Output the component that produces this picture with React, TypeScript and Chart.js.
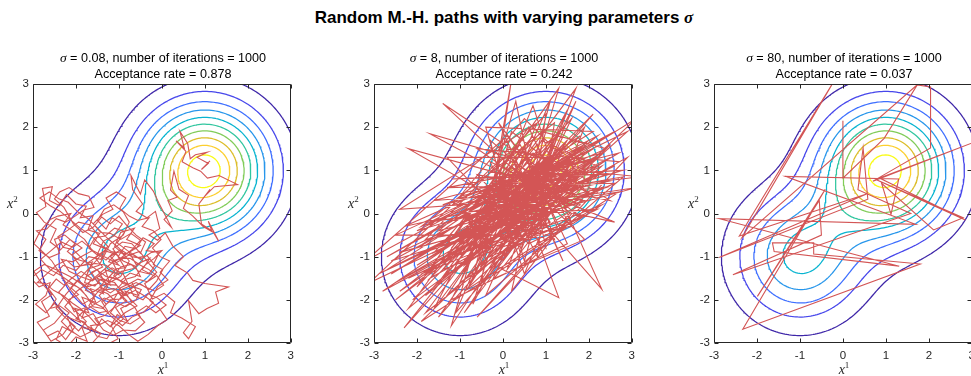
import { useEffect, useRef } from "react";
import { Chart, registerables } from "chart.js";

Chart.register(...registerables);

// Target density: mixture of two isotropic Gaussians
const MIX_WEIGHTS = [2 / 3, 1 / 3];
const MIX_MEANS: [number, number][] = [
  [1, 1],
  [-1, -1],
];
const MIX_SD = [1, 1];

// Contour levels of the density and their parula colours
const CONTOUR_LEVELS = [0.01, 0.02, 0.03, 0.04, 0.05, 0.06, 0.07, 0.08, 0.09, 0.1];
const LEVEL_COLORS = [
  "#3e26a8",
  "#4747eb",
  "#3e6fff",
  "#2796eb",
  "#08b4d0",
  "#31c69f",
  "#81cc59",
  "#dcbd29",
  "#fccf30",
  "#f9fb15",
];

const AXIS_TICKS = [-3, -2, -1, 0, 1, 2, 3];

// Proposal widths, chain lengths and acceptance rates of the three runs
const SIGMAS = ["0.08", "8", "80"];
const ITERATIONS = [1000, 1000, 1000];
const ACCEPTANCE = ["0.878", "0.242", "0.037"];

// Chain states (x1, x2) of the three runs
const PATH_SMALL: number[][] = [
  [1.12, 1.22], [0.92, 1.02], [1.08, 1.16], [0.82, 1.3], [1.06, 1.42], [0.78, 1.36], [0.66, 1.27], [0.6, 1.62],
  [0.42, 1.9], [0.52, 1.52], [0.33, 1.68], [0.56, 1.44], [0.47, 1.2], [0.72, 1.06], [0.9, 0.98], [1.06, 0.82],
  [1.33, 0.88], [1.76, 0.67], [1.22, 0.62], [1.0, 0.4], [1.12, 0.56], [0.86, 0.22], [0.92, -0.24], [1.16, -0.4],
  [1.08, -0.18], [1.32, -0.64], [1.2, -0.44], [0.96, -0.3], [0.72, -0.06], [0.5, 0.12], [0.62, 0.42], [0.4, 0.56],
  [0.28, 0.98], [0.2, 0.54], [0.36, 0.38], [0.14, 0.3], [0.24, 0.06], [0.05, -0.14], [0.22, -0.32],
  [-0.05, 0.2], [-0.2, 0.52], [-0.4, 0.78], [-0.5, 0.45], [-0.72, 0.88], [-0.68, 0.55], [-0.45, 0.22], [-0.6, 0.05],
  [-0.35, -0.1], [-0.15, 0.05], [-0.05, -0.35], [-0.3, -0.5], [-0.1, -0.62], [0.08, -0.45], [0.25, -0.75], [0.5, -1.0],
  [0.3, -1.2], [0.6, -1.38], [0.72, -1.55], [1.0, -1.62], [1.55, -1.7], [1.25, -1.82], [1.32, -2.08], [1.05, -2.2],
  [0.86, -2.32], [0.62, -2.02], [0.7, -2.5], [0.5, -2.76], [0.62, -2.9], [0.78, -2.62], [0.46, -2.42], [0.2, -2.3],
  [0.3, -2.05], [0.05, -1.85],
  [-0.22, -1.98], [-0.4, -1.62], [-0.15, -1.46], [-0.46, -1.3], [-0.28, -1.04], [-0.6, -1.18], [-0.76, -0.9], [-0.5, -0.74],
  [-0.82, -0.6], [-0.64, -0.34], [-0.96, -0.44], [-1.1, -0.76], [-0.84, -1.0], [-1.16, -1.1], [-1.0, -1.42], [-1.32, -1.3],
  [-1.2, -1.66], [-1.5, -1.5], [-1.36, -1.86], [-1.66, -1.74], [-1.54, -2.06], [-1.86, -1.94], [-1.7, -2.3], [-2.02, -2.2],
  [-1.9, -2.52], [-2.2, -2.4], [-2.06, -2.76], [-2.32, -2.62], [-2.46, -2.92], [-2.2, -3.08], [-2.0, -2.86], [-1.74, -2.96],
  [-1.86, -2.64], [-1.56, -2.7], [-1.4, -2.44], [-1.2, -2.62], [-1.04, -2.34], [-0.8, -2.5], [-0.96, -2.2], [-0.7, -2.06],
  [-0.86, -1.8], [-0.54, -1.9], [-0.7, -1.6], [-0.96, -1.72], [-1.1, -1.96], [-1.3, -2.1], [-1.46, -1.9], [-1.26, -1.7],
  [-1.5, -1.3], [-1.76, -1.46], [-1.62, -1.12], [-1.9, -1.22], [-2.1, -0.96], [-1.86, -0.8], [-2.14, -0.6], [-2.36, -0.84],
  [-2.6, -0.66], [-2.46, -0.36], [-2.74, -0.2], [-2.92, 0.02], [-2.7, 0.16], [-2.78, 0.58], [-2.55, 0.62], [-2.62, 0.3],
  [-2.38, 0.18], [-2.22, 0.44], [-2.0, 0.22], [-1.76, 0.17], [-1.9, -0.1], [-1.6, -0.05], [-1.72, -0.38], [-1.45, -0.46],
  [-1.6, -0.7], [-1.3, -0.82], [-1.42, -1.06],
  [-1.7, -1.0], [-2.0, -1.32], [-2.3, -1.2], [-2.52, -1.44], [-2.8, -1.3], [-3.05, -1.5], [-2.86, -1.7], [-2.6, -1.6],
  [-2.7, -1.9], [-2.94, -2.1], [-2.7, -2.3], [-2.5, -2.08], [-2.3, -2.3], [-2.5, -2.54], [-2.76, -2.7], [-2.58, -2.96],
  [-2.3, -2.8], [-2.12, -2.55], [-1.94, -2.72], [-1.76, -2.5], [-1.96, -2.3], [-2.2, -2.04], [-2.4, -1.82], [-2.2, -1.6],
  [-1.96, -1.7], [-1.76, -1.9], [-1.6, -2.16], [-1.38, -2.2], [-1.2, -2.0], [-0.96, -1.98],
  [-0.78, -1.78], [-0.52, -1.62], [-0.3, -1.76], [-0.12, -1.56], [0.02, -1.3], [-0.2, -1.18], [-0.06, -0.9], [-0.36, -0.86],
  [-0.18, -0.7], [-0.44, -0.56], [-0.6, -0.82], [-0.86, -0.76], [-1.02, -1.0], [-0.86, -1.26], [-1.06, -1.28], [-1.22, -1.46],
  [-0.96, -1.56], [-0.74, -1.38], [-0.5, -1.46], [-0.62, -1.22], [-0.9, -1.1], [-1.12, -0.9], [-1.3, -1.08], [-1.5, -0.94],
  [-1.36, -0.64], [-1.12, -0.52], [-0.92, -0.24], [-1.16, -0.1], [-1.3, -0.36], [-1.5, -0.16], [-1.34, 0.1], [-1.12, 0.2],
  [-0.9, 0.04], [-0.76, -0.2],
  [-0.9, -0.5], [-1.2, -0.7], [-1.46, -1.2], [-1.7, -1.28], [-1.8, -1.6], [-1.56, -1.68], [-1.42, -1.52], [-1.1, -1.6],
  [-0.9, -1.86], [-1.14, -2.2], [-1.32, -2.36], [-1.56, -2.44], [-1.36, -2.7], [-1.12, -2.82], [-0.9, -2.7], [-0.62, -2.72],
  [-0.4, -2.52], [-0.6, -2.3], [-0.36, -2.14], [-0.14, -2.3], [0.1, -2.12], [-0.1, -1.96], [-0.32, -1.86], [-0.44, -2.0],
  [-0.66, -1.9],
  [-0.9, -1.4], [-1.16, -1.26], [-1.4, -1.4], [-1.62, -1.56], [-1.9, -1.46], [-2.16, -1.34], [-2.34, -1.06], [-2.08, -1.12],
  [-1.84, -0.98], [-1.62, -0.86], [-1.8, -0.6], [-2.04, -0.42], [-2.3, -0.26], [-2.12, 0.0], [-2.42, -0.06], [-2.6, -0.14],
  [-2.84, -0.42], [-2.98, -0.7], [-2.76, -0.9], [-2.56, -1.1], [-2.3, -1.5], [-2.1, -1.8], [-1.84, -2.1], [-1.62, -1.96],
  [-1.4, -1.72], [-1.2, -1.84], [-1.0, -1.7], [-0.84, -1.52], [-0.62, -1.46], [-0.4, -1.2], [-0.18, -1.04], [0.0, -0.86],
  [-0.24, -0.9], [-0.46, -1.04], [-0.7, -1.0], [-0.96, -0.84], [-1.2, -1.0], [-1.0, -1.2],
  [-1.24, -1.12], [-1.08, -0.94], [-1.34, -0.86], [-1.56, -1.02], [-1.38, -1.24], [-1.64, -1.36], [-1.48, -1.62], [-1.74, -1.7],
  [-1.96, -1.54], [-2.12, -1.72], [-1.94, -1.88], [-2.18, -2.0], [-2.04, -2.28], [-1.78, -2.18], [-1.86, -2.42], [-1.6, -2.32],
  [-1.44, -2.56], [-1.66, -2.6], [-1.52, -2.84], [-1.28, -2.9], [-1.1, -2.62], [-0.9, -2.44], [-1.08, -2.18], [-0.82, -2.02],
  [-1.0, -1.84], [-1.24, -1.94], [-1.4, -2.04], [-1.26, -2.26], [-1.46, -2.3], [-1.7, -2.14],
  [-1.54, -1.88], [-1.78, -1.78], [-1.64, -1.5], [-1.88, -1.34], [-2.1, -1.5], [-2.28, -1.66], [-2.46, -1.52], [-2.64, -1.74],
  [-2.46, -1.98], [-2.6, -2.2], [-2.38, -2.14], [-2.16, -2.3], [-2.34, -2.5], [-2.14, -2.7], [-1.9, -2.86], [-1.66, -2.74],
  [-1.8, -2.52], [-2.0, -2.44], [-1.82, -2.26], [-1.56, -2.1], [-1.34, -1.96], [-1.08, -2.06], [-0.84, -2.16], [-0.6, -2.0],
  [-0.48, -1.76], [-0.66, -1.7], [-0.9, -1.62], [-1.12, -1.44], [-0.96, -1.24], [-0.72, -1.18], [-0.54, -1.34], [-0.3, -1.4],
  [-0.16, -1.2], [-0.34, -0.98], [-0.56, -1.02], [-0.8, -0.86], [-1.04, -0.68], [-0.86, -0.42], [-1.1, -0.34], [-1.32, -0.52],
  [-1.56, -0.56], [-1.7, -0.8], [-1.48, -0.98], [-1.72, -1.14], [-1.98, -1.06], [-2.2, -0.88], [-2.02, -0.7], [-2.26, -0.5],
  [-2.5, -0.6], [-2.38, -0.92], [-2.62, -1.02], [-2.86, -0.86], [-2.7, -0.6], [-2.92, -0.4], [-2.68, -0.36], [-2.46, -0.12],
  [-2.24, -0.2], [-2.02, -0.06], [-1.82, 0.08], [-1.58, 0.14], [-1.7, 0.4], [-1.94, 0.46], [-2.16, 0.6], [-2.38, 0.5],
  [-2.5, 0.34],
  [-2.28, 0.14], [-2.06, -0.24], [-1.84, -0.44], [-1.6, -0.32], [-1.4, -0.08], [-1.2, -0.24], [-1.0, -0.06], [-0.8, -0.3],
  [-0.6, -0.5], [-0.38, -0.66], [-0.5, -0.92], [-0.7, -0.7], [-0.92, -0.66], [-1.14, -0.82], [-0.98, -1.04], [-0.74, -1.04],
  [-0.5, -1.2], [-0.3, -1.3], [-0.12, -1.44], [0.04, -1.66], [-0.16, -1.8], [-0.38, -1.7], [-0.6, -1.6], [-0.8, -1.7],
  [-1.04, -1.8], [-0.88, -2.0], [-0.64, -2.16], [-0.5, -2.4], [-0.74, -2.56], [-0.98, -2.48], [-1.2, -2.3], [-1.04, -2.08],
  [-1.26, -1.86], [-1.5, -1.76], [-1.32, -1.56], [-1.1, -1.34], [-1.3, -1.2], [-1.54, -1.16], [-1.8, -1.2], [-2.04, -1.24],
  [-2.22, -1.08], [-2.46, -1.2], [-2.68, -1.4], [-2.9, -1.6], [-2.72, -1.62], [-2.52, -1.78], [-2.3, -1.9], [-2.08, -2.08],
  [-1.9, -2.2], [-1.68, -2.4], [-1.5, -2.6],
  [-1.26, -2.48], [-1.0, -2.6], [-0.78, -2.8], [-0.56, -2.96], [-0.32, -2.8], [-0.1, -2.6], [0.12, -2.46], [-0.06, -2.2],
  [-0.28, -2.02], [-0.1, -1.7], [0.14, -1.54], [-0.04, -1.36], [0.18, -1.1], [-0.04, -1.0], [-0.22, -0.8], [-0.02, -0.6],
  [-0.2, -0.4], [-0.46, -0.3], [-0.3, -0.1], [-0.56, -0.16], [-0.76, -0.06], [-0.98, 0.12], [-0.84, 0.36], [-1.06, 0.5],
  [-1.3, 0.36], [-1.14, 0.1], [-1.38, -0.02], [-1.6, -0.24], [-1.42, -0.44], [-1.2, -0.46], [-0.96, -0.6], [-0.72, -0.46],
  [-0.5, -0.62], [-0.7, -0.84], [-0.94, -1.02], [-1.18, -1.16],
  [-1.42, -1.36], [-1.7, -1.6], [-1.98, -1.8], [-2.26, -2.16], [-2.0, -2.4], [-1.72, -2.62], [-1.42, -2.78], [-1.62, -3.0],
  [-1.3, -3.05], [-1.02, -2.9], [-1.18, -2.6], [-0.86, -2.3], [-0.58, -2.14], [-0.8, -1.92], [-1.06, -1.66], [-1.34, -1.64],
  [-1.6, -1.82], [-1.86, -1.64], [-2.14, -1.46], [-2.42, -1.32], [-2.74, -1.18], [-2.98, -1.34], [-2.84, -1.56], [-2.56, -1.88],
  [-2.8, -2.04], [-2.62, -2.38], [-2.9, -2.52], [-2.66, -2.84], [-2.42, -2.72], [-2.24, -2.92], [-2.02, -2.62], [-2.26, -2.4],
  [-2.46, -2.2], [-2.24, -1.88], [-2.0, -1.6], [-1.74, -1.32], [-1.5, -1.06], [-1.26, -0.76], [-1.44, -0.56], [-1.68, -0.26],
  [-1.94, -0.2], [-2.18, -0.38], [-2.42, -0.54], [-2.3, -0.78], [-2.06, -0.84], [-1.82, -1.08], [-1.58, -1.26], [-1.3, -1.46],
  [-1.04, -1.52], [-0.78, -1.64], [-0.56, -1.52], [-0.34, -1.58], [-0.12, -1.36], [-0.3, -1.16], [-0.52, -0.88], [-0.8, -0.98],
  [-1.06, -1.14], [-1.34, -1.0], [-1.6, -0.86], [-1.86, -0.64], [-2.08, -0.78], [-2.34, -0.66], [-2.58, -0.86], [-2.82, -1.06],
  [-2.6, -1.3], [-2.38, -1.42], [-2.12, -1.6], [-1.88, -1.76], [-1.66, -2.04], [-1.4, -2.16], [-1.16, -2.4], [-0.92, -2.6],
  [-0.7, -2.4], [-0.42, -2.28], [-0.2, -2.06], [-0.42, -1.9], [-0.62, -1.78], [-0.86, -1.9], [-1.12, -1.74], [-1.38, -1.78],
  [-1.18, -1.52], [-0.94, -1.34], [-0.68, -1.28], [-0.44, -1.1], [-0.66, -0.96], [-0.92, -0.92], [-1.18, -0.88], [-1.44, -0.72],
  [-1.66, -0.5], [-1.9, -0.34], [-2.16, -0.12], [-2.38, 0.06], [-2.6, 0.18], [-2.84, 0.36], [-2.62, 0.5], [-2.4, 0.34],
  [-2.18, 0.26], [-1.96, 0.04], [-1.72, -0.12], [-1.5, -0.34], [-1.26, -0.58], [-1.0, -0.8], [-0.76, -1.1], [-0.96, -1.46],
  [-1.22, -1.6], [-1.48, -1.44],
];

const PATH_MEDIUM: number[][] = [
  [0.6, 0.8], [1.4, 1.6], [-0.2, -0.4], [1.1, 0.3], [-1.3, -1.9], [0.8, 1.2], [2.1, 0.4], [0.2, 1.9], [-0.6, -1.1], [1.6, 1.0],
  [0.4, -0.2], [-1.8, -0.6], [1.0, 2.3], [0.7, 0.1], [-0.9, -2.3], [1.9, 1.4], [0.3, 0.6], [-2.3, -2.65], [0.9, 0.9], [2.6, 1.9],
  [-0.4, 0.3], [1.2, -0.6], [0.5, 1.5], [-1.2, -1.0], [1.7, 2.9], [0.1, -1.3], [1.5, 0.5], [-2.2, 1.5], [0.6, -0.1], [1.3, 1.9],
  [-0.8, -0.2], [2.4, 0.9], [0.0, 0.9], [-1.6, -2.2], [1.1, 1.4], [0.8, -1.0], [-0.3, 1.2], [1.8, 0.2], [-1.0, -1.6], [0.7, 2.5],
  [1.6, -0.3], [-0.5, -0.7], [2.0, 1.7], [0.2, 0.2], [-2.0, -1.2], [1.0, 0.6], [-0.1, 2.1], [1.4, -1.1], [0.5, 0.9], [-1.4, 0.2],
  [2.2, 1.1], [0.9, 1.7], [-0.7, -1.5], [0.3, -0.6], [1.7, 1.3], [-1.1, -0.5], [0.6, 2.0], [2.3, -1.75], [0.4, 0.4], [-2.6, -1.4],
  [1.2, 1.0], [0.0, -0.3], [1.5, 2.4], [-0.4, -1.9], [2.8, 0.85], [0.8, 0.5], [-1.7, 1.85], [0.2, 1.3], [1.1, -0.2], [-0.9, -0.9],
  [1.9, 2.0], [0.5, -1.4], [-0.2, 0.7], [1.6, 0.8], [-1.5, -1.6], [0.7, 1.4], [2.5, 0.3], [-0.6, 0.9], [1.0, -0.8], [0.3, 2.6],
  [-1.2, -2.6], [1.3, 1.2], [0.1, 0.0], [2.1, 2.3], [-0.8, -0.6], [0.9, 0.2], [-2.1, -2.0], [1.4, 1.5], [0.4, -0.9], [-0.3, 1.7],
  [1.8, -0.1], [-1.4, -1.3], [0.6, 1.1], [3.2, 0.85], [0.2, 0.5], [-1.9, -0.3], [1.2, 2.1], [0.8, -0.4], [-0.5, -1.2], [1.5, 1.7],
  [-0.1, -0.8], [2.0, 0.7], [0.5, 2.2], [-1.0, 0.4], [1.1, 0.9], [-2.4, -1.8], [0.7, 0.3], [1.7, 2.6], [-0.7, -2.1], [0.3, 1.0],
  [1.9, -0.6], [-0.2, -1.5], [1.3, 0.4], [-1.6, -0.9], [0.9, 1.9], [2.4, 1.5], [0.0, 0.4], [-1.2, -2.0], [1.5, -0.7], [0.4, 1.6],
  [-0.9, -0.1], [2.2, 0.1], [0.6, -0.7], [-1.3, 1.3], [1.0, 1.3], [-0.4, -0.3], [1.8, 1.8], [-2.0, -0.8], [0.8, 0.8], [0.2, -1.8],
  [1.6, 0.0], [-0.6, 1.5], [2.7, 1.2], [-1.1, -1.3], [0.5, 0.0], [1.2, 1.7], [-1.8, -2.3], [0.9, -0.2], [0.1, 1.5], [2.0, 1.0],
  [-0.3, -0.6], [1.4, 0.7], [-1.4, 2.55], [0.7, 0.6], [-0.8, -1.7], [1.1, 2.6], [0.3, -0.4], [2.3, 0.6], [-1.5, -0.4], [0.6, 1.3],
  [1.3, -0.4], [-0.5, 0.1], [1.9, 1.5], [-2.7, -1.0], [0.8, 1.0], [0.0, -1.1], [1.6, 2.2], [-1.0, -0.7], [0.4, 0.7], [2.6, -0.2],
  [-0.2, 0.4], [1.0, 0.0], [-1.7, -1.5], [1.2, 1.4], [0.5, -1.1], [-0.4, 2.0], [2.1, 1.9], [-1.3, -0.2], [0.9, 0.4], [0.2, 1.1],
  [-0.9, -1.2], [1.7, 0.6], [0.6, -0.5], [-2.5, -0.5], [1.0, 1.1], [-0.1, -0.1], [1.4, 2.0], [-0.6, -0.9], [2.2, 1.3], [0.3, 0.8],
  [-1.2, -0.8], [0.8, 1.6], [1.5, -0.2], [-0.3, -1.0], [3.1, 2.2], [0.7, 0.7], [-1.5, -2.4], [1.1, 0.5], [0.1, 1.8], [-3.2, -1.1],
  [0.9, 1.1], [1.8, 0.9], [-0.7, 0.5], [0.4, -0.1], [1.3, 2.9], [-2.0, -1.7], [0.6, 1.0], [1.6, 1.2], [-0.5, -1.6], [0.2, 3.1],
  [-0.3, 0.2], [2.7, 0.8], [-2.3, -0.3], [1.1, 1.2], [-1.8, -1.9], [2.5, 1.6], [-0.2, -1.2], [1.3, -1.95], [0.4, 0.5], [-2.6, -1.1],
  [1.9, 0.3], [-0.5, 0.6], [2.3, 1.4], [-1.4, -0.7], [0.7, 1.8], [-2.2, -2.2], [1.5, 0.9], [-0.8, 0.1], [2.9, 1.9], [0.1, -0.6],
  [-1.9, -1.4], [1.2, 0.2], [-0.6, -0.4], [2.0, 1.2], [-1.1, -2.3], [0.8, 2.1], [-2.4, 0.1], [1.7, 0.4], [0.0, 1.3], [-3.1, -1.6],
  [2.6, 1.1], [-2.1, -1.0], [2.4, 0.6], [-1.6, 0.3], [2.7, 1.4], [-2.5, -1.6], [2.2, 0.9], [-1.2, 0.8], [2.8, 1.0], [-2.0, -0.4],
  [1.9, 1.6], [-2.7, -1.3], [2.5, 1.3], [-0.8, -1.0], [2.3, 0.2], [-1.9, -2.5], [1.7, 1.0], [-2.4, -0.9], [3.1, 0.6], [-1.0, 0.0],
  [2.1, 1.5], [-2.8, -1.8], [2.4, 1.0], [-1.5, -1.1], [2.9, 1.3], [-0.6, -2.4], [2.0, 0.5], [-2.2, -1.5], [2.6, 0.7], [-1.3, 0.6],
  [1.8, 1.2], [-2.5, -2.0], [2.2, 1.8], [-1.7, -0.2], [2.7, 0.5], [-0.9, -1.8], [2.3, 1.1], [-2.9, -1.4], [1.6, 0.7], [-1.1, 0.2],
];

const PATH_LARGE: number[][] = [
  [0.0, 2.15], [0.0, 0.82], [0.96, 1.74], [1.73, 2.98], [2.04, 2.93], [2.04, 1.52], [0.7, 0.75], [3.05, 1.65],
  [0.85, 0.82], [2.85, -0.15], [0.78, 0.78], [2.8, -0.1], [2.11, -0.38], [0.9, 0.7], [1.12, -0.02], [1.3, 0.8],
  [-1.34, 0.86], [1.69, -0.25], [-2.87, -0.12], [1.31, -1.22], [-1.6, -0.88], [-1.64, -0.68], [-0.68, -0.68], [-0.68, -0.94],
  [1.8, -1.17], [-2.33, -2.68], [-0.41, 0.56], [-1.99, -1.92], [-0.55, 0.3], [-0.5, -0.5], [-2.56, -1.42], [1.58, 0.0],
  [0.35, 0.55], [0.47, 1.52], [0.58, 0.33], [-2.88, -1.02], [0.55, 0.45], [-2.41, -0.52], [-0.26, 2.98], [-2.35, -0.56],
  [1.75, 3.0],
];

const PATHS = [PATH_SMALL, PATH_MEDIUM, PATH_LARGE];

// Layout of the three panels (plot-area left edge, page pixels)
const PANEL_LEFT = [33, 374, 714];
const PLOT_SIZE = 260;
const PLOT_TOP = 84;
const PLOT_BOTTOM = 343;
const PAGE_W = 971;
const PAGE_H = 376;

const PATH_COLOR = "#d35555";
const AXIS_COLOR = "#262626";
const SANS = "'Liberation Sans', Arial, Helvetica, sans-serif";
const SERIF = "'Liberation Serif', 'DejaVu Serif', serif";
const TICK_LEN = 4;

type Pt = { x: number; y: number };

function density(x: number, y: number): number {
  let s = 0;
  for (let k = 0; k < MIX_WEIGHTS.length; k++) {
    const v = MIX_SD[k] * MIX_SD[k];
    const dx = x - MIX_MEANS[k][0];
    const dy = y - MIX_MEANS[k][1];
    s += (MIX_WEIGHTS[k] / (2 * Math.PI * v)) * Math.exp(-(dx * dx + dy * dy) / (2 * v));
  }
  return s;
}

// Marching squares on a regular grid, with segments chained into polylines
const GRID_LO = -3.6;
const GRID_HI = 3.6;
const GRID_N = 145;

function buildField() {
  const step = (GRID_HI - GRID_LO) / (GRID_N - 1);
  const coords = Array.from({ length: GRID_N }, (_, i) => GRID_LO + i * step);
  const z = coords.map((x) => coords.map((y) => density(x, y)));
  return { coords, z };
}

function contourLines(level: number, field: { coords: number[]; z: number[][] }): Pt[][] {
  const { coords, z } = field;
  const pts = new Map<string, Pt>();
  const adj = new Map<string, string[]>();
  const lerp = (a: number, b: number, va: number, vb: number) => a + ((level - va) / (vb - va)) * (b - a);

  const hPoint = (i: number, j: number) => {
    const key = `h${i},${j}`;
    if (!pts.has(key)) pts.set(key, { x: lerp(coords[i], coords[i + 1], z[i][j], z[i + 1][j]), y: coords[j] });
    return key;
  };
  const vPoint = (i: number, j: number) => {
    const key = `v${i},${j}`;
    if (!pts.has(key)) pts.set(key, { x: coords[i], y: lerp(coords[j], coords[j + 1], z[i][j], z[i][j + 1]) });
    return key;
  };
  const link = (a: string, b: string) => {
    if (!adj.has(a)) adj.set(a, []);
    if (!adj.has(b)) adj.set(b, []);
    adj.get(a)!.push(b);
    adj.get(b)!.push(a);
  };

  for (let i = 0; i < GRID_N - 1; i++) {
    for (let j = 0; j < GRID_N - 1; j++) {
      const a = z[i][j] >= level;
      const b = z[i + 1][j] >= level;
      const c = z[i + 1][j + 1] >= level;
      const d = z[i][j + 1] >= level;
      const bottom = a !== b ? hPoint(i, j) : null;
      const right = b !== c ? vPoint(i + 1, j) : null;
      const top = d !== c ? hPoint(i, j + 1) : null;
      const left = a !== d ? vPoint(i, j) : null;
      const edges = [bottom, right, top, left].filter((e) => e !== null) as string[];
      if (edges.length === 2) link(edges[0], edges[1]);
      else if (edges.length === 4) {
        const centre = (z[i][j] + z[i + 1][j] + z[i + 1][j + 1] + z[i][j + 1]) / 4 >= level;
        if (centre === a) {
          link(bottom!, right!);
          link(top!, left!);
        } else {
          link(bottom!, left!);
          link(top!, right!);
        }
      }
    }
  }

  const used = new Set<string>();
  const sk = (p: string, q: string) => (p < q ? p + "|" + q : q + "|" + p);
  const starts = [...adj.keys()].sort((p, q) => (adj.get(p)!.length === 1 ? 0 : 1) - (adj.get(q)!.length === 1 ? 0 : 1));
  const lines: Pt[][] = [];
  for (const s of starts) {
    for (const nb of adj.get(s)!) {
      if (used.has(sk(s, nb))) continue;
      used.add(sk(s, nb));
      const line: Pt[] = [pts.get(s)!];
      let cur = nb;
      for (;;) {
        line.push(pts.get(cur)!);
        const next = adj.get(cur)!.find((k) => !used.has(sk(cur, k)));
        if (!next) break;
        used.add(sk(cur, next));
        cur = next;
      }
      lines.push(line);
    }
  }
  return lines;
}

const FIELD = buildField();
const CONTOURS = CONTOUR_LEVELS.map((lv) => contourLines(lv, FIELD));

// Box around the plot area with inward tick marks on all four sides
const axesBox = {
  id: "axesBox",
  afterDraw(chart: Chart) {
    const { ctx, chartArea: a } = chart;
    const sx = chart.scales.x;
    const sy = chart.scales.y;
    const l = Math.round(a.left) + 0.5;
    const r = Math.round(a.right) - 0.5;
    const t = Math.round(a.top) + 0.5;
    const b = Math.round(a.bottom) - 0.5;
    ctx.save();
    ctx.strokeStyle = AXIS_COLOR;
    ctx.lineWidth = 1;
    ctx.beginPath();
    ctx.rect(l, t, r - l, b - t);
    for (const v of AXIS_TICKS) {
      const px = Math.round(sx.getPixelForValue(v)) + 0.5;
      ctx.moveTo(px, b);
      ctx.lineTo(px, b - TICK_LEN);
      ctx.moveTo(px, t);
      ctx.lineTo(px, t + TICK_LEN);
      const py = Math.round(sy.getPixelForValue(v)) + 0.5;
      ctx.moveTo(l, py);
      ctx.lineTo(l + TICK_LEN, py);
      ctx.moveTo(r, py);
      ctx.lineTo(r - TICK_LEN, py);
    }
    ctx.stroke();
    ctx.restore();
  },
};

const Y_AXIS_W = 30;
const X_AXIS_H = 22;
const CANVAS_W = 300;

function Panel({ index }: { index: number }) {
  const ref = useRef<HTMLCanvasElement>(null);

  useEffect(() => {
    const canvas = ref.current;
    if (!canvas) return;
    const datasets: any[] = [
      {
        data: PATHS[index].map(([x, y]) => ({ x, y })),
        borderColor: PATH_COLOR,
        borderWidth: 1.1,
        pointRadius: 0,
        showLine: true,
        order: 0,
      },
    ];
    CONTOURS.forEach((lines, k) => {
      lines.forEach((line) =>
        datasets.push({
          data: line,
          borderColor: LEVEL_COLORS[k],
          borderWidth: 1.25,
          pointRadius: 0,
          showLine: true,
          order: 1,
        })
      );
    });

    const tickFont = { family: SANS, size: 11.5 };
    const chart = new Chart(canvas, {
      type: "scatter",
      data: { datasets },
      options: {
        animation: false,
        responsive: false,
        events: [],
        layout: {
          padding: {
            left: 3,
            right: CANVAS_W - 3 - Y_AXIS_W - PLOT_SIZE,
            top: PLOT_TOP,
            bottom: PAGE_H - PLOT_BOTTOM - X_AXIS_H,
          },
        },
        plugins: { legend: { display: false }, tooltip: { enabled: false }, title: { display: false } },
        scales: {
          x: {
            type: "linear",
            min: -3,
            max: 3,
            afterFit: (s: any) => {
              s.height = X_AXIS_H;
            },
            ticks: { stepSize: 1, font: tickFont, color: AXIS_COLOR, padding: 6, maxRotation: 0, autoSkip: false },
            grid: { display: true, drawOnChartArea: false, drawTicks: false },
            border: { display: false },
          },
          y: {
            type: "linear",
            min: -3,
            max: 3,
            afterFit: (s: any) => {
              s.width = Y_AXIS_W;
            },
            ticks: { stepSize: 1, font: tickFont, color: AXIS_COLOR, padding: 4, autoSkip: false },
            grid: { display: true, drawOnChartArea: false, drawTicks: false },
            border: { display: false },
          },
        },
      },
      plugins: [axesBox],
    } as any);
    return () => chart.destroy();
  }, [index]);

  const left = PANEL_LEFT[index];
  const centre = left + PLOT_SIZE / 2;
  return (
    <>
      <canvas
        ref={ref}
        width={CANVAS_W}
        height={PAGE_H}
        style={{ position: "absolute", left: left - 3 - Y_AXIS_W, top: 0, width: CANVAS_W, height: PAGE_H }}
      />
      <div
        style={{
          position: "absolute",
          left: centre,
          top: 50,
          transform: "translateX(-50%)",
          whiteSpace: "nowrap",
          textAlign: "center",
          font: `12.6px ${SANS}`,
          lineHeight: "16px",
          color: "#000",
        }}
      >
        <div>
          <span style={{ fontFamily: SERIF, fontStyle: "italic", fontSize: "13.5px" }}>σ</span> = {SIGMAS[index]}, number
          of iterations = {ITERATIONS[index]}
        </div>
        <div>Acceptance rate = {ACCEPTANCE[index]}</div>
      </div>
      <div
        style={{
          position: "absolute",
          left: centre,
          top: 363,
          transform: "translateX(-50%)",
          whiteSpace: "nowrap",
          font: `italic 14px ${SERIF}`,
          lineHeight: "14px",
          color: AXIS_COLOR,
        }}
      >
        x
        <span style={{ fontStyle: "normal", fontSize: "9px", position: "relative", top: "-6px" }}>1</span>
      </div>
      <div
        style={{
          position: "absolute",
          left: left - 26,
          top: 197,
          whiteSpace: "nowrap",
          font: `italic 14px ${SERIF}`,
          lineHeight: "14px",
          color: AXIS_COLOR,
        }}
      >
        x
        <span style={{ fontStyle: "normal", fontSize: "9px", position: "relative", top: "-6px" }}>2</span>
      </div>
    </>
  );
}

export default function App() {
  return (
    <div
      style={{
        position: "absolute",
        left: 0,
        top: 0,
        width: PAGE_W,
        height: PAGE_H,
        overflow: "hidden",
        background: "#fff",
      }}
    >
      <div
        style={{
          position: "absolute",
          left: 504,
          top: 9,
          transform: "translateX(-50%)",
          whiteSpace: "nowrap",
          font: `bold 17px ${SANS}`,
          lineHeight: "18px",
          color: "#000",
        }}
      >
        Random M.-H. paths with varying parameters{" "}
        <span style={{ fontFamily: SERIF, fontStyle: "italic" }}>σ</span>
      </div>
      {[0, 1, 2].map((i) => (
        <Panel key={i} index={i} />
      ))}
    </div>
  );
}
